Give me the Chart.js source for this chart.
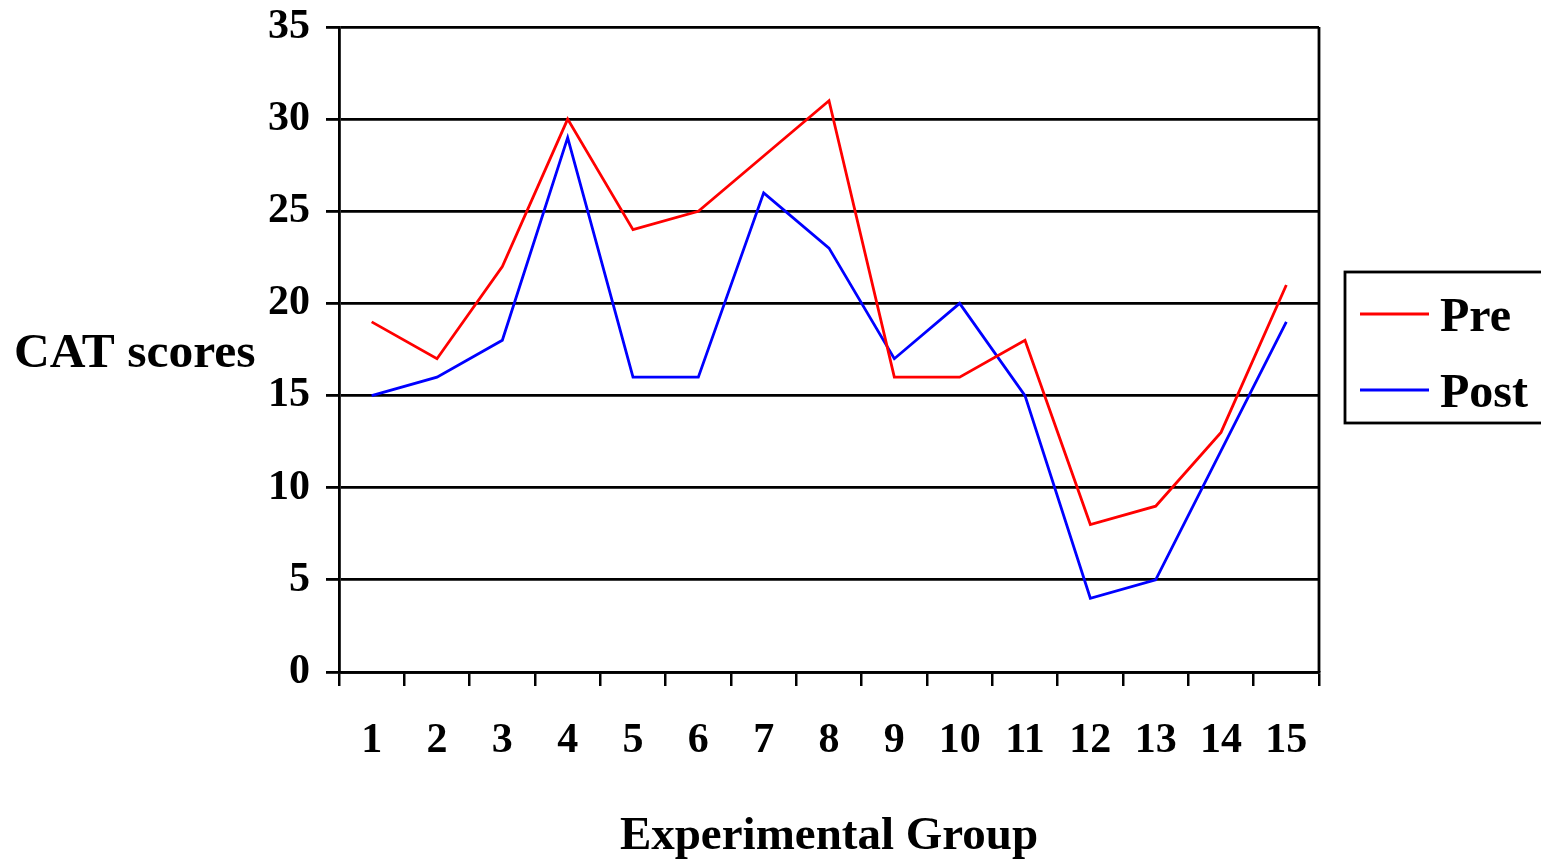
<!DOCTYPE html>
<html>
<head>
<meta charset="utf-8">
<script src="https://cdn.jsdelivr.net/npm/chart.js@4.4.1/dist/chart.umd.min.js"></script>
<style>
  html, body { margin: 0; padding: 0; background: #fff; overflow: hidden; }
  canvas { display: block; }
</style>
</head>
<body>
<canvas id="chart" width="1541" height="861"></canvas>
<script>
// Data
const groups = ['1', '2', '3', '4', '5', '6', '7', '8', '9', '10', '11', '12', '13', '14', '15'];
const preScores  = [19, 17, 22, 30, 24, 25, 28, 31, 16, 16, 18, 8, 9, 13, 21];
const postScores = [15, 16, 18, 29, 16, 16, 26, 23, 17, 20, 15, 4, 5, 12, 19];
const seriesNames = ['Pre', 'Post'];
const yTitle = 'CAT scores';
const xTitle = 'Experimental Group';
const yMin = 0, yMax = 35, yStep = 5;

const SERIF = "'Liberation Serif', 'Times New Roman', serif";

// Horizontal y-axis title and the boxed legend on the right
const decorations = {
  id: 'decorations',
  afterDraw(chart) {
    const ctx = chart.ctx;
    const area = chart.chartArea;
    ctx.save();

    // right frame line of the plot
    ctx.strokeStyle = '#000';
    ctx.lineWidth = 2.8;
    ctx.beginPath();
    ctx.moveTo(area.right, area.top);
    ctx.lineTo(area.right, area.bottom);
    ctx.stroke();

    // y-axis title, written horizontally
    ctx.fillStyle = '#000';
    ctx.font = 'bold 49.5px ' + SERIF;
    ctx.textAlign = 'left';
    ctx.textBaseline = 'alphabetic';
    ctx.fillText(yTitle, 14, 367);

    // legend box
    const bx = 1345, by = 272, bh = 151;
    ctx.lineWidth = 2.8;
    ctx.strokeRect(bx, by, 300, bh);
    ctx.font = 'bold 48px ' + SERIF;
    chart.data.datasets.forEach((ds, i) => {
      const ly = 314 + i * 76;
      ctx.strokeStyle = ds.borderColor;
      ctx.lineWidth = 2.8;
      ctx.beginPath();
      ctx.moveTo(1360, ly);
      ctx.lineTo(1429, ly);
      ctx.stroke();
      ctx.fillStyle = '#000';
      ctx.fillText(ds.label, 1440, ly + 17);
    });
    ctx.restore();
  }
};

new Chart(document.getElementById('chart'), {
  type: 'line',
  data: {
    labels: groups,
    datasets: [
      { label: seriesNames[0], data: preScores,  borderColor: '#FF0000', borderWidth: 2.8, pointRadius: 0, tension: 0, fill: false },
      { label: seriesNames[1], data: postScores, borderColor: '#0000FF', borderWidth: 2.8, pointRadius: 0, tension: 0, fill: false }
    ]
  },
  options: {
    responsive: false,
    animation: false,
    devicePixelRatio: 1,
    layout: { padding: { left: 0, right: 222, top: 27, bottom: 0 } },
    plugins: { legend: { display: false }, tooltip: { enabled: false } },
    scales: {
      x: {
        type: 'category',
        offset: true,
        grid: { drawOnChartArea: false, drawTicks: true, tickLength: 14, offset: true, color: '#000', lineWidth: 2.5 },
        border: { display: true, color: '#000', width: 2.8 },
        ticks: { color: '#000', font: { family: SERIF, size: 42, weight: 'bold' }, padding: 30, maxRotation: 0, autoSkip: false },
        title: { display: true, text: xTitle, color: '#000', font: { family: SERIF, size: 47, weight: 'bold' }, padding: { top: 0, bottom: -4 } },
        afterFit(scale) { scale.height = 189; }
      },
      y: {
        min: yMin,
        max: yMax,
        grid: { drawOnChartArea: true, drawTicks: true, tickLength: 13, color: '#000', lineWidth: 2.8 },
        border: { display: true, color: '#000', width: 2.8 },
        ticks: { stepSize: yStep, color: '#000', font: { family: SERIF, size: 42, weight: 'bold' }, padding: 16 },
        afterFit(scale) {
          scale.width = 339;
          scale.paddingTop = 0;
          scale.paddingBottom = 0;
        }
      }
    }
  },
  plugins: [decorations]
});
</script>
</body>
</html>
